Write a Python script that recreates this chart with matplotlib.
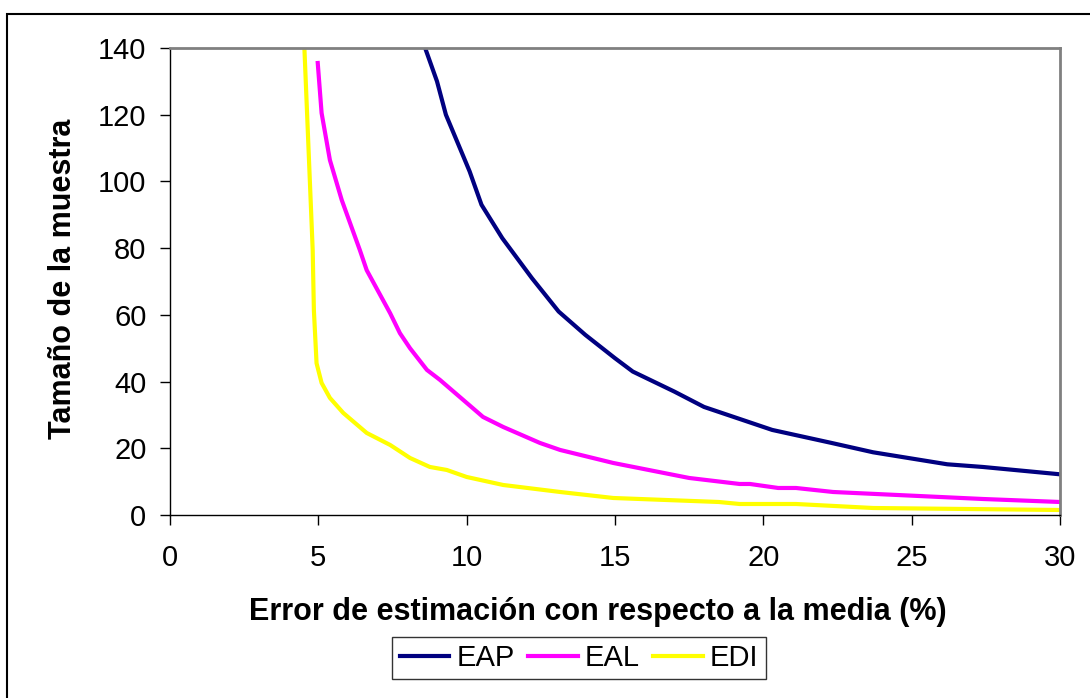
import matplotlib
matplotlib.use('Agg')
import matplotlib.pyplot as plt
from matplotlib.patches import Rectangle

# error (%) vs sample size
eap_x = [8.6, 9.0, 9.3, 10.1, 10.5, 11.2, 12.2, 13.1, 14.0, 15.0, 15.6, 17.0, 18.0, 20.3, 22.3, 23.7, 26.2, 27.4, 30.0]
eap_y = [140, 130, 120, 103, 93, 83, 71, 61, 54, 47, 43, 37, 32.4, 25.5, 21.6, 18.8, 15.2, 14.4, 12.2]

eal_x = [4.98, 5.11, 5.39, 5.79, 6.4, 6.63, 7.42, 7.75, 8.09, 8.66, 9.1, 10.55, 11.23, 12.47, 13.15, 14.94, 17.5, 19.2, 19.55, 20.5, 21.1, 22.35, 27.4, 30.0]
eal_y = [135.5, 120.5, 106.4, 94.4, 79.4, 73.4, 60.5, 54.5, 50, 43.5, 40.5, 29.4, 26.4, 21.6, 19.5, 15.6, 11.1, 9.3, 9.3, 8.1, 8.1, 6.9, 4.8, 3.9]

edi_x = [4.53, 4.81, 4.85, 4.94, 5.11, 5.39, 5.84, 6.63, 7.42, 8.09, 8.76, 9.33, 10.0, 11.23, 13.15, 14.94, 18.5, 19.2, 21.1, 23.7, 30.0]
edi_y = [140, 79.4, 61.4, 45.5, 39.6, 35.1, 30.6, 24.6, 21.0, 17.1, 14.4, 13.5, 11.4, 9.0, 6.9, 5.1, 3.9, 3.3, 3.3, 2.1, 1.5]

xticks = [0, 5, 10, 15, 20, 25, 30]
yticks = [0, 20, 40, 60, 80, 100, 120, 140]

plt.rcParams['font.family'] = ['Liberation Sans', 'DejaVu Sans']

W, H = 1090, 698
fig = plt.figure(figsize=(W / 100, H / 100), dpi=100)
ax = fig.add_axes([170 / W, 1 - 515 / H, 890 / W, 467 / H])

# outer chart border (runs off the right and bottom edges)
fig.patches.append(Rectangle((7 / W, -0.1), 1.2, 1.1 - 14 / H, transform=fig.transFigure,
                             fill=False, edgecolor='black', linewidth=1.5))

ax.plot(eap_x, eap_y, color='#000080', lw=3, label='EAP')
ax.plot(eal_x, eal_y, color='#ff00ff', lw=3, label='EAL')
ax.plot(edi_x, edi_y, color='#ffff00', lw=3, label='EDI')

ax.set_xlim(0, 30)
ax.set_ylim(0, 140)
ax.set_xticks(xticks)
ax.set_yticks(yticks)
ax.tick_params(labelsize=21, direction='out', length=7, width=1)
ax.tick_params(axis='y', pad=10)
ax.tick_params(axis='x', pad=14)

for s in ['top', 'right']:
    ax.spines[s].set_color('#808080')
    ax.spines[s].set_linewidth(2)
for s in ['left', 'bottom']:
    ax.spines[s].set_color('black')
    ax.spines[s].set_linewidth(1)

fig.text(598 / W, 1 - 612 / H, 'Error de estimación con respecto a la media (%)',
         ha='center', va='center', fontsize=22, fontweight='bold')
fig.text(63 / W, 1 - 279 / H, 'Tamaño de la muestra', rotation=90,
         ha='center', va='center', fontsize=22, fontweight='bold')

leg = ax.legend(loc='center', bbox_to_anchor=(579 / W, 1 - 658 / H), bbox_transform=fig.transFigure,
                ncol=3, fontsize=21, frameon=True, fancybox=False, handlelength=1.7,
                handletextpad=0.25, columnspacing=0.45, borderpad=0.25, borderaxespad=0)
leg.get_frame().set_edgecolor('black')
leg.get_frame().set_linewidth(1)

fig.savefig('out.png', dpi=100)
